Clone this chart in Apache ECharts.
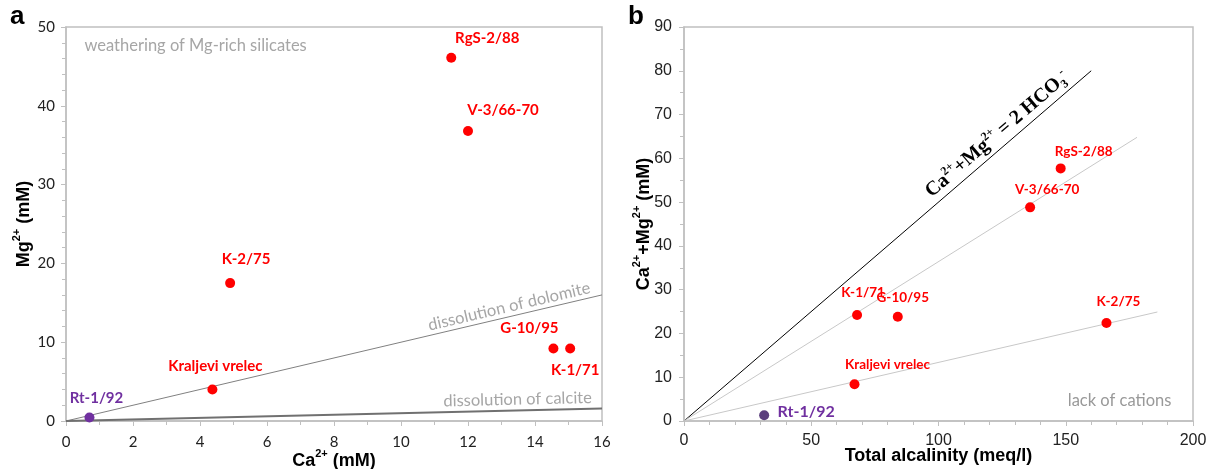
<!DOCTYPE html>
<html><head><meta charset="utf-8">
<script src="https://cdn.jsdelivr.net/npm/echarts@6/dist/echarts.min.js"></script>
<style>html,body{margin:0;padding:0;background:#fff}#c{width:1217px;height:469px}</style>
</head><body><div id="c"></div>
<script>
// ---- Panel a data: Ca2+ vs Mg2+ (mM)
const aSamples = ['RgS-2/88', 'V-3/66-70', 'K-2/75', 'Kraljevi vrelec', 'Rt-1/92', 'G-10/95', 'K-1/71'];
const aCa = [11.5, 12.0, 4.9, 4.37, 0.7, 14.55, 15.05];
const aMg = [46.1, 36.8, 17.5, 4.0, 0.45, 9.2, 9.2];
// reference lines (panel a)
const aDolomiteX = [0, 16], aDolomiteY = [0, 16];
const aCalciteX = [0, 16], aCalciteY = [0, 1.6];
// axis ticks (panel a)
const aXMin = 0, aXMax = 16, aXStep = 2;
const aYMin = 0, aYMax = 50, aYStep = 10;

// ---- Panel b data: total alkalinity vs Ca2+ + Mg2+
const bSamples = ['RgS-2/88', 'V-3/66-70', 'K-2/75', 'G-10/95', 'K-1/71', 'Kraljevi vrelec', 'Rt-1/92'];
const bAlk = [148, 136, 166, 84, 68, 67, 31.5];
const bCaMg = [57.7, 48.8, 22.4, 23.8, 24.2, 8.4, 1.3];
// reference lines (panel b)
const bEquivX = [0, 160], bEquivY = [0, 80];
const bUpperX = [0, 178], bUpperY = [0, 64.8];
const bLowerX = [0, 186], bLowerY = [0, 24.9];
// axis ticks (panel b)
const bXMin = 0, bXMax = 200, bXStep = 50;
const bYMin = 0, bYMax = 90, bYStep = 10;

// ---- styles
const RED = '#ff0000', PURPLE = '#7030a0';
const aLabelOffset = {
  'RgS-2/88': [36, -20], 'V-3/66-70': [35, -21], 'K-2/75': [16, -24],
  'Kraljevi vrelec': [3, -23], 'Rt-1/92': [7, -19], 'G-10/95': [-24, -20], 'K-1/71': [5, 22]
};
const bLabelOffset = {
  'RgS-2/88': [23, -17], 'V-3/66-70': [17, -18], 'K-2/75': [12, -21],
  'G-10/95': [5, -19], 'K-1/71': [6, -22], 'Kraljevi vrelec': [33, -20], 'Rt-1/92': [42, -3]
};
const labelFont = 'Lato, "Open Sans", sans-serif';
const arial = '"Liberation Sans", Arial, sans-serif';
const axisGray = '#c0c0c0';

function pairs(xs, ys) { return xs.map((x, i) => [x, ys[i]]); }
function pts(names, xs, ys, offs, fs, rtFs, purpleMarker) {
  return names.map((n, i) => {
    const isRt = n === 'Rt-1/92';
    return {
      name: n, value: [xs[i], ys[i]],
      itemStyle: { color: isRt ? purpleMarker : RED, opacity: 1 },
      label: { offset: offs[n], color: isRt ? PURPLE : RED, fontSize: isRt ? rtFs : fs }
    };
  });
}
function axisCommon(min, max, step, split, font, fs, margin) {
  return {
    type: 'value', min: min, max: max, interval: step,
    nameMoveOverlap: false,
    axisLine: { show: true, lineStyle: { color: axisGray, width: 1.5 } },
    axisTick: { show: true, inside: false, length: 5, lineStyle: { color: axisGray } },
    minorTick: { show: true, splitNumber: split, length: 4, lineStyle: { color: axisGray } },
    splitLine: { show: false },
    axisLabel: { color: '#222', fontFamily: font, fontSize: fs, margin: margin },
    nameTextStyle: { color: '#000', fontFamily: arial, fontWeight: 'bold', fontSize: 18 }
  };
}
const supRich = {
  n: { fontSize: 18, fontWeight: 'bold', fontFamily: arial, color: '#000', lineHeight: 22, verticalAlign: 'bottom' },
  s: { fontSize: 11, fontWeight: 'bold', fontFamily: arial, color: '#000', lineHeight: 22, verticalAlign: 'top' }
};
function lineSeries(xi, data, color, width) {
  return { type: 'line', xAxisIndex: xi, yAxisIndex: xi, data: data, symbol: 'none', silent: true, z: 1,
    lineStyle: { color: color, width: width }, animation: false };
}
function scatterSeries(xi, data) {
  return { type: 'scatter', xAxisIndex: xi, yAxisIndex: xi, data: data, symbolSize: 10, z: 5, animation: false,
    itemStyle: { opacity: 1 },
    label: { show: true, position: 'inside', formatter: p => p.name, fontWeight: 'bold', fontFamily: labelFont, align: 'center', verticalAlign: 'middle' } };
}

const chart = echarts.init(document.getElementById('c'), null, { renderer: 'canvas' });

const ax0 = axisCommon(aXMin, aXMax, aXStep, 2, labelFont, 15, 14);
ax0.name = '{n|Ca}{s|2+}{n| (mM)}'; ax0.nameLocation = 'middle'; ax0.nameGap = 27; ax0.nameTextStyle.rich = supRich;
const ay0 = axisCommon(aYMin, aYMax, aYStep, 5, labelFont, 15, 11);
ay0.name = '{n|Mg}{s|2+}{n| (mM)}'; ay0.nameLocation = 'middle'; ay0.nameGap = 33; ay0.nameTextStyle.rich = supRich;
const ax1 = axisCommon(bXMin, bXMax, bXStep, 5, arial, 16, 12);
ax1.name = 'Total alcalinity (meq/l)'; ax1.nameLocation = 'middle'; ax1.nameGap = 26; ax1.gridIndex = 1;
const ay1 = axisCommon(bYMin, bYMax, bYStep, 2, arial, 16, 12);
ay1.name = '{n|Ca}{s|2+}{n|+Mg}{s|2+}{n| (mM)}'; ay1.nameLocation = 'middle'; ay1.nameGap = 31; ay1.gridIndex = 1; ay1.nameTextStyle.rich = supRich;

chart.setOption({
  animation: false,
  backgroundColor: '#fff',
  grid: [
    { left: 66, top: 27, width: 536, height: 394, containLabel: false, outerBoundsMode: 'none', show: true, borderColor: axisGray, borderWidth: 1.5, backgroundColor: 'transparent' },
    { left: 684, top: 27, width: 509, height: 394, containLabel: false, outerBoundsMode: 'none', show: true, borderColor: axisGray, borderWidth: 1.5, backgroundColor: 'transparent' }
  ],
  xAxis: [ax0, ax1],
  yAxis: [ay0, ay1],
  series: [
    lineSeries(0, pairs(aDolomiteX, aDolomiteY), '#808080', 1),
    lineSeries(0, pairs(aCalciteX, aCalciteY), '#707070', 2),
    scatterSeries(0, pts(aSamples, aCa, aMg, aLabelOffset, 15, 15, PURPLE)),
    lineSeries(1, pairs(bEquivX, bEquivY), '#000000', 1),
    lineSeries(1, pairs(bUpperX, bUpperY), '#c8c8c8', 1),
    lineSeries(1, pairs(bLowerX, bLowerY), '#c8c8c8', 1),
    scatterSeries(1, pts(bSamples, bAlk, bCaMg, bLabelOffset, 13.5, 16, '#5b3f7d'))
  ]
});

// ---- annotations anchored in data space
function px(idx, p) { return chart.convertToPixel({ xAxisIndex: idx, yAxisIndex: idx }, p); }
function alongLine(idx, xs, ys, t, normalOff) {
  const p0 = px(idx, [xs[0], ys[0]]), p1 = px(idx, [xs[1], ys[1]]);
  const dx = p1[0] - p0[0], dy = p1[1] - p0[1];
  const len = Math.hypot(dx, dy);
  const ang = Math.atan2(-dy, dx);
  const nx = dy / len, ny = -dx / len;
  return { x: p0[0] + dx * t + nx * normalOff, y: p0[1] + dy * t + ny * normalOff, rotation: ang };
}
const noteGray = '#a6a6a6';
const dol = alongLine(0, aDolomiteX, aDolomiteY, 0.831, 10);
const cal = alongLine(0, aCalciteX, aCalciteY, 0.843, 11);
const eq = alongLine(1, bEquivX, bEquivY, 0.79, 13);
const wpos = px(0, [0.55, 47.6]);
const lpos = px(1, [191.5, 4.7]);
chart.setOption({
  graphic: [
    { type: 'text', x: 10, y: 4, style: { text: 'a', font: 'bold 26px ' + arial, fill: '#000' } },
    { type: 'text', x: 628, y: 4, style: { text: 'b', font: 'bold 26px ' + arial, fill: '#000' } },
    { type: 'text', x: wpos[0], y: wpos[1], style: { text: 'weathering of Mg-rich silicates', font: '16.5px ' + labelFont, fill: noteGray, align: 'left', verticalAlign: 'middle' } },
    { type: 'text', x: dol.x, y: dol.y, rotation: dol.rotation, style: { text: 'dissolution of dolomite', font: '16.5px ' + labelFont, fill: noteGray, align: 'center', verticalAlign: 'middle' } },
    { type: 'text', x: cal.x, y: cal.y, rotation: cal.rotation, style: { text: 'dissolution of calcite', font: '16.5px ' + labelFont, fill: noteGray, align: 'center', verticalAlign: 'middle' } },
    { type: 'text', x: lpos[0], y: lpos[1], style: { text: 'lack of cations', font: '16.5px ' + labelFont, fill: '#999', align: 'right', verticalAlign: 'middle' } },
    { type: 'text', x: eq.x, y: eq.y, rotation: eq.rotation, style: {
      text: '{t|Ca}{s|2+}{t|+Mg}{s|2+}{t| = 2 HCO}{b|3}{s|-}', align: 'center', verticalAlign: 'middle',
      rich: {
        t: { font: 'bold 20px "Liberation Serif", "Times New Roman", serif', fill: '#000', lineHeight: 24, verticalAlign: 'middle' },
        s: { font: 'bold 12px "Liberation Serif", "Times New Roman", serif', fill: '#000', lineHeight: 24, verticalAlign: 'top' },
        b: { font: 'bold 12px "Liberation Serif", "Times New Roman", serif', fill: '#000', lineHeight: 24, verticalAlign: 'bottom' }
      } } }
  ]
});
</script></body></html>
